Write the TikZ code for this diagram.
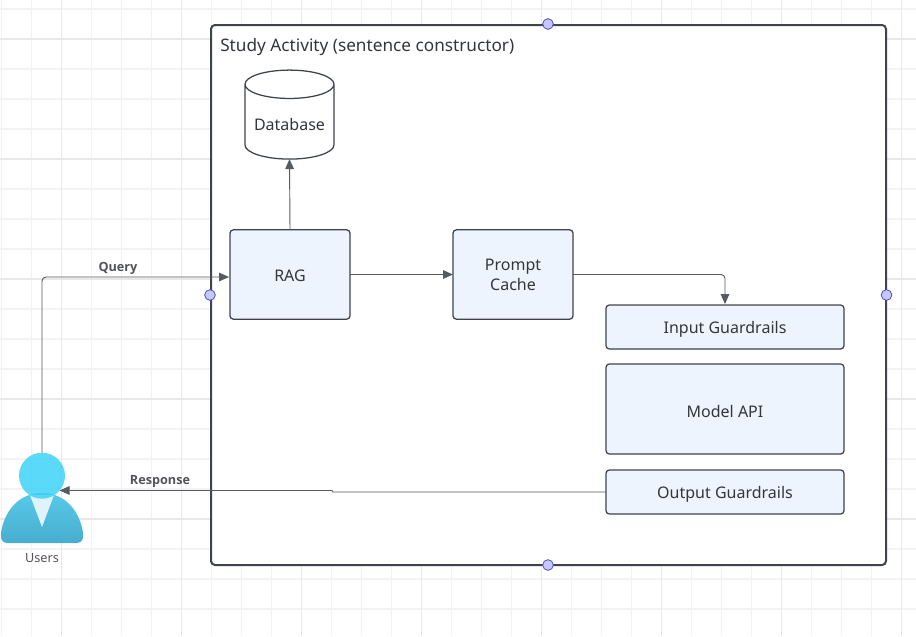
\documentclass[tikz,border=0pt]{standalone}
\usepackage{fontspec}
\setmainfont{Noto Sans}
\newfontfamily\labelfont{Open Sans}
\usetikzlibrary{arrows.meta,shapes.geometric}
\definecolor{gridminor}{HTML}{F3F3F3}
\definecolor{gridmajor}{HTML}{E8E8E8}
\definecolor{edgedark}{HTML}{3F444C}
\definecolor{linkgrey}{HTML}{555A63}
\definecolor{boxblue}{HTML}{EDF4FE}
\definecolor{textdark}{HTML}{33363B}
\definecolor{bodytop}{HTML}{58C9E8}
\definecolor{bodylow}{HTML}{48ADCF}
\definecolor{headcyan}{HTML}{33D0F8}
\definecolor{collar}{HTML}{DFF4FA}
\tikzset{
    bluebox/.style = {draw=edgedark, fill=boxblue, line width=0.95pt, rounded corners=2.5pt,
        inner sep=0pt, outer sep=0pt, text=textdark, font=\fontsize{12}{15}\selectfont, align=center},
    oneline/.style = {text height=10.4pt, text depth=0pt},
    lowline/.style = {text height=12.4pt, text depth=0pt},
    link/.style = {draw=linkgrey, line width=0.7pt, rounded corners=3pt, -{Triangle[length=7.5pt,width=6.5pt]}},
    linklabel/.style = {text=textdark!85, font=\fontsize{9.5}{11}\selectfont\labelfont\bfseries},
    handle/.style = {circle, draw=blue!65!black!70, fill=blue!22, line width=0.6pt, minimum size=8pt, inner sep=0pt}
}
\begin{document}
\begin{tikzpicture}[x=0.75pt, y=-0.75pt]
    \useasboundingbox (0,0) rectangle (916,636);
    \fill[white] (0,0) rectangle (916,636);
    % grid
    \foreach \x in {1.5,31.5,...,901.5} \draw[gridminor, line width=0.8pt] (\x,0) -- (\x,636);
    \foreach \y in {9,39,...,639} \draw[gridminor, line width=0.8pt] (0,\y) -- (916,\y);
    \foreach \x in {61.5,181.5,...,901.5} \draw[gridmajor, line width=0.8pt] (\x,0) -- (\x,636);
    \foreach \y in {39,159,...,519} \draw[gridmajor, line width=0.8pt] (0,\y) -- (916,\y);

    % activity frame
    \draw[edgedark, fill=white, line width=1.5pt, rounded corners=3pt] (211,25) rectangle (886,565);
    \node[anchor=west, text=textdark, font=\fontsize{12.9}{15}\selectfont, inner sep=0pt] (title) at (220,47.5) {Study Activity (sentence constructor)};

    % blocks
    \node[draw=edgedark, fill=white, line width=0.95pt, cylinder, shape border rotate=90, aspect=0.4,
        minimum width=66.75pt, minimum height=66.75pt, inner sep=0pt, outer sep=0pt, text=textdark,
        lowline, font=\fontsize{12}{15}\selectfont] (db) at (289.5,122) {Database};
    \node[bluebox, oneline, minimum width=90pt, minimum height=67pt] (rag) at (290,274.5) {RAG};
    \node[bluebox, minimum width=90pt, minimum height=67pt] (cache) at (513,274.5) {Prompt\\Cache};
    \node[bluebox, oneline, minimum width=178.5pt, minimum height=33pt] (input) at (725,327) {Input Guardrails};
    \node[bluebox, lowline, minimum width=178.5pt, minimum height=67.5pt] (model) at (725,409) {Model API};
    \node[bluebox, oneline, minimum width=178.5pt, minimum height=33pt] (output) at (725,492) {Output Guardrails};

    % user
    \shade[top color=bodytop, bottom color=bodylow] (7,543) -- (77,543)
        .. controls (82,543) and (84,538) .. (83,533)
        .. controls (80,512) and (66,493) .. (42,493)
        .. controls (18,493) and (4,512) .. (1,533)
        .. controls (0,538) and (2,543) .. (7,543) -- cycle;
    \fill[collar] (30,495) -- (42,527) -- (54,495) -- cycle;
    \node[circle, fill=headcyan, fill opacity=0.8, minimum size=34.5pt, inner sep=0pt, outer sep=0pt] (head) at (42,475.7) {};
    \node[text=textdark!85, font=\fontsize{9.5}{11}\selectfont, inner sep=0pt] (users) at (42,558) {Users};

    % connectors
    \coordinate (ragin) at (229,277);
    \coordinate (cachein) at (725,304);
    \draw[link] (head.north) |- (ragin);
    \draw[link] (rag.north) -- (db.south);
    \draw[link] (rag.east) -- (cache.west);
    \draw[link] (cache.east) -| (cachein);
    \draw[link, rounded corners=0pt] (output.west) -- (333,492) -- (332,490.5) -- (head.-40);
    \node[linklabel, inner sep=0pt] (query) at (118,268) {Query};
    \node[linklabel, inner sep=0pt] (response) at (160,481) {Response};

    % handles
    \node[handle] (h1) at (548,24) {};
    \node[handle] (h2) at (210,295) {};
    \node[handle] (h3) at (886.5,295) {};
    \node[handle] (h4) at (548,565) {};
\end{tikzpicture}
\end{document}
